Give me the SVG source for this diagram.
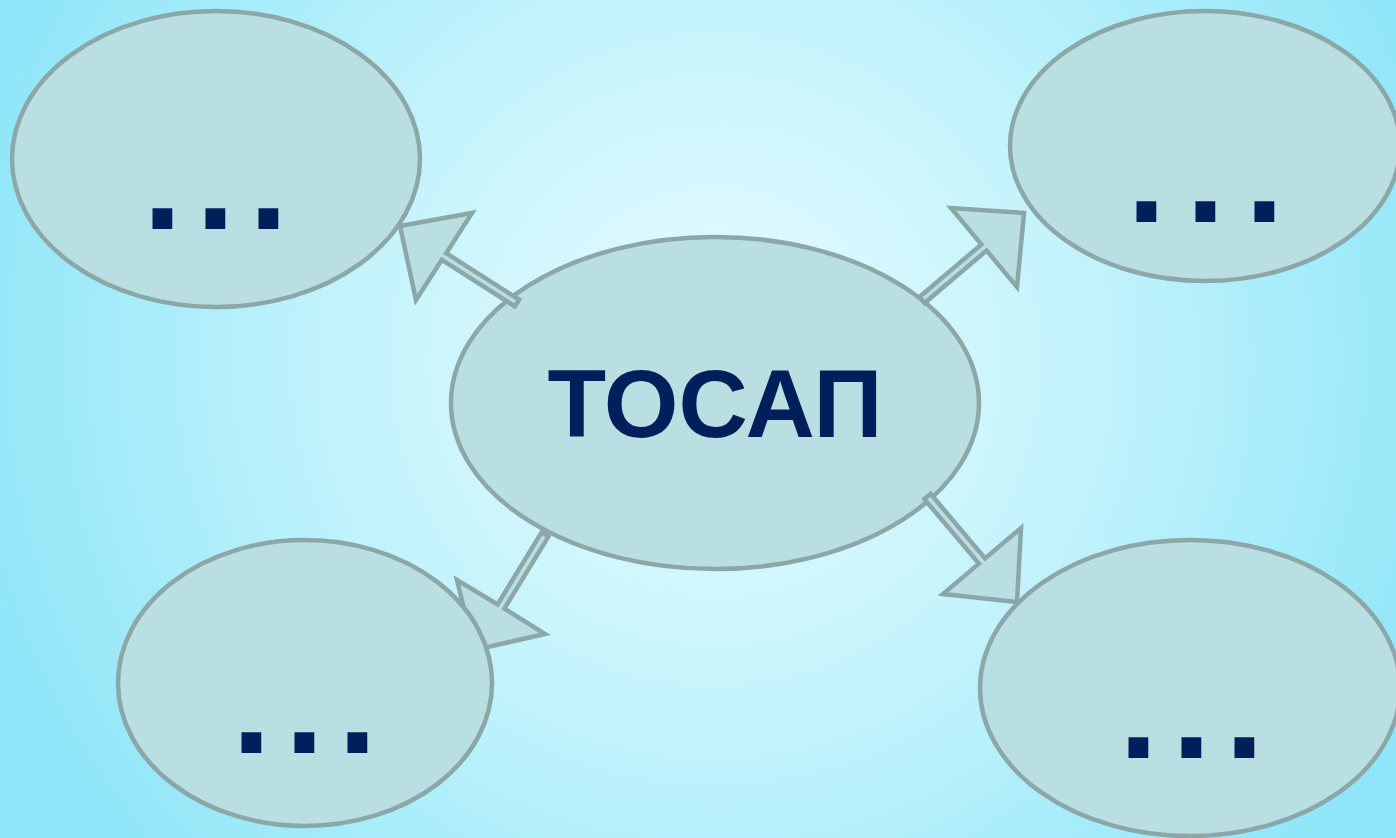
<svg xmlns="http://www.w3.org/2000/svg" width="1396" height="838" viewBox="0 0 1396 838">
<defs>
<radialGradient id="bg" gradientUnits="userSpaceOnUse" cx="715" cy="360" r="760">
<stop offset="0" stop-color="#E8FBFE"/>
<stop offset="0.5" stop-color="#C2F3FC"/>
<stop offset="1" stop-color="#90E6F8"/>
</radialGradient>
<style>
.node{fill:#B9DFE2;stroke:#8BA7A7;stroke-width:4.5}
.arrow{fill:#B9DFE2;stroke:#8BA7A7;stroke-width:4.5;stroke-linejoin:miter}
.dots{font-family:"Liberation Sans",Arial,sans-serif;font-weight:bold;font-size:140px;fill:#001F5B}
.title{font-family:"Liberation Sans",Arial,sans-serif;font-weight:bold;font-size:96px;fill:#001F5B;text-anchor:middle}
</style>
</defs>
<rect width="1396" height="838" fill="url(#bg)"/>
<g id="center">
<ellipse class="node" cx="715" cy="403" rx="264" ry="166"/>
<text class="title" x="715" y="437">ТОСАП</text>
</g>
<g id="connectors">
<polygon class="arrow" points="400,226 472,213 446.2,253.2 519.2,299.7 514.8,306.3 441.8,259.8 416,300"/>
<polygon class="arrow" points="1024,213 951,208 981.4,244.4 919.4,297 924.6,303 986.6,250.5 1017,287"/>
<polygon class="arrow" points="474,650 545,634 504.4,608.6 548.4,536.6 541.6,532.4 497.6,604.4 457,580"/>
<polygon class="arrow" points="1017,602 943,594 978.9,563.6 924.4,499.1 930.6,493.9 985.1,558.4 1021,528"/>
</g>
<g id="top-left">
<ellipse class="node" cx="216" cy="159" rx="204" ry="148"/>
<text class="dots" x="143 196 249" y="229">...</text>
</g>
<g id="top-right">
<ellipse class="node" cx="1205" cy="146" rx="195" ry="135"/>
<text class="dots" x="1127 1186 1245" y="222">...</text>
</g>
<g id="bottom-left">
<ellipse class="node" cx="305" cy="683" rx="187" ry="143"/>
<text class="dots" x="232 285 338" y="753">...</text>
</g>
<g id="bottom-right">
<ellipse class="node" cx="1190" cy="688" rx="210" ry="148"/>
<text class="dots" x="1119 1172 1225" y="758">...</text>
</g>
</svg>
